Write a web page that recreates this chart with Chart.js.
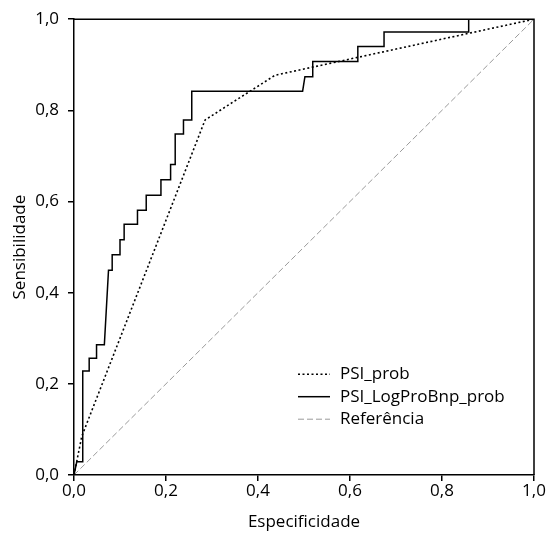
<!DOCTYPE html>
<html>
<head>
<meta charset="utf-8">
<script src="https://cdn.jsdelivr.net/npm/chart.js@4.4.1/dist/chart.umd.min.js"></script>
<style>
html,body{margin:0;padding:0;background:#fff;}
#wrap{width:551px;height:534px;}
</style>
</head>
<body>
<div id="wrap"><canvas id="roc"></canvas></div>
<script>
// curva PSI_prob
const psiX=[0,0.017,0.285,0.437,1];
const psiY=[0,0.085,0.779,0.877,1];

// curva PSI_LogProBnp_prob (escada)
const bnpX=[0,0.006,0.019,0.019,0.033,0.033,0.049,0.049,0.066,0.075,0.083,0.083,0.100,0.100,0.109,0.109,0.138,0.138,0.157,0.157,0.189,0.189,0.210,0.210,0.220,0.220,0.238,0.238,0.256,0.256,0.497,0.502,0.519,0.519,0.617,0.617,0.674,0.674,0.858,0.858,1];
const bnpY=[0,0.029,0.029,0.228,0.228,0.256,0.256,0.286,0.286,0.449,0.449,0.483,0.483,0.516,0.516,0.550,0.550,0.581,0.581,0.614,0.614,0.648,0.648,0.681,0.681,0.748,0.748,0.779,0.779,0.842,0.842,0.874,0.874,0.907,0.907,0.940,0.940,0.972,0.972,1.0,1];

// linha de referencia
const refX=[0,1];
const refY=[0,1];

const tickVals=[0,0.2,0.4,0.6,0.8,1.0];

const FONT="'Open Sans',sans-serif";
const FSIZE=17;

function pts(xs,ys){
  return xs.map(function(x,i){return {x:x,y:ys[i]};});
}

function fmt(v){
  return v.toFixed(1).replace(".",",");
}

// caixa a volta da area do grafico + legenda dentro
const boxPlugin={
  id:"boxPlugin",
  afterDraw:function(chart){
    const c=chart.ctx, a=chart.chartArea;
    c.save();
    c.strokeStyle="#000";
    c.lineWidth=1.5;
    c.setLineDash([]);
    c.beginPath();
    c.moveTo(a.left,a.top);
    c.lineTo(a.right,a.top);
    c.lineTo(a.right,a.bottom);
    c.stroke();

    // legenda
    const x0=a.left+224, y0=a.top+355, gap=22.5;
    c.font=FSIZE+"px "+FONT;
    c.textBaseline="middle";
    c.fillStyle="#000";
    chart.data.datasets.forEach(function(ds,i){
      const y=y0+i*gap;
      c.strokeStyle=ds.borderColor;
      c.lineWidth=ds.borderWidth;
      c.setLineDash(ds.borderDash||[]);
      c.beginPath();
      c.moveTo(x0,y);
      c.lineTo(x0+32,y);
      c.stroke();
      c.setLineDash([]);
      c.fillText(ds.label,x0+42,y);
    });
    c.restore();
  }
};

new Chart(document.getElementById("roc"),{
  type:"scatter",
  data:{
    datasets:[{
      label:"PSI_prob",
      data:pts(psiX,psiY),
      showLine:true,
      borderColor:"#000",
      borderWidth:1.6,
      borderDash:[2,2.5],
      pointRadius:0,
      tension:0
    },{
      label:"PSI_LogProBnp_prob",
      data:pts(bnpX,bnpY),
      showLine:true,
      borderColor:"#000",
      borderWidth:1.5,
      pointRadius:0,
      tension:0
    },{
      label:"Referência",
      data:pts(refX,refY),
      showLine:true,
      borderColor:"#9a9a9a",
      borderWidth:1,
      borderDash:[6,3],
      pointRadius:0
    }]
  },
  options:{
    responsive:true,
    maintainAspectRatio:false,
    animation:false,
    layout:{padding:{left:0,right:17,top:17,bottom:0}},
    plugins:{
      legend:{display:false},
      tooltip:{enabled:false}
    },
    scales:{
      x:{
        type:"linear",
        min:0,max:1,
        afterFit:function(s){s.height=59;},
        afterBuildTicks:function(s){s.ticks=tickVals.map(function(v){return {value:v};});},
        grid:{drawOnChartArea:false,drawTicks:true,tickLength:6,color:"#000",lineWidth:1.5},
        border:{color:"#000",width:1.5},
        ticks:{color:"#000",font:{family:FONT,size:FSIZE},padding:0,maxRotation:0,callback:function(v){return fmt(v);}},
        title:{display:true,text:"Especificidade",color:"#000",font:{family:FONT,size:FSIZE},padding:{top:0,bottom:2}}
      },
      y:{
        type:"linear",
        min:0,max:1,
        afterFit:function(s){s.width=74;},
        afterBuildTicks:function(s){s.ticks=tickVals.map(function(v){return {value:v};});},
        grid:{drawOnChartArea:false,drawTicks:true,tickLength:6,color:"#000",lineWidth:1.5},
        border:{color:"#000",width:1.5},
        ticks:{color:"#000",font:{family:FONT,size:FSIZE},padding:9,callback:function(v){return fmt(v);}},
        title:{display:true,text:"Sensibilidade",color:"#000",font:{family:FONT,size:FSIZE},padding:{top:10,bottom:0}}
      }
    }
  },
  plugins:[boxPlugin]
});
</script>
</body>
</html>
